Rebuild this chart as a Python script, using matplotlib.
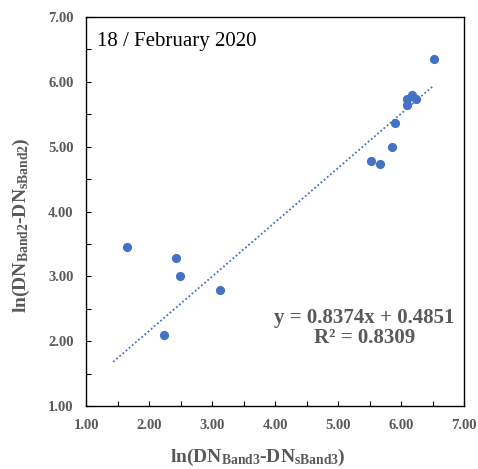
import numpy as np
import matplotlib.pyplot as plt
from matplotlib.ticker import MultipleLocator, FormatStrFormatter

plt.rcParams["font.family"] = ["Liberation Serif", "DejaVu Serif"]
plt.rcParams["mathtext.fontset"] = "custom"
plt.rcParams["mathtext.rm"] = "Liberation Serif:bold"
plt.rcParams["mathtext.bf"] = "Liberation Serif:bold"
plt.rcParams["mathtext.it"] = "Liberation Serif:bold"

# ln(DN - DN_s) per sample, band 3 vs band 2
band3 = [6.52, 6.09, 6.17, 6.24, 6.10, 5.90, 5.86, 5.52, 5.67,
         1.65, 2.42, 2.49, 3.13, 2.23]
band2 = [6.35, 5.74, 5.79, 5.73, 5.64, 5.36, 4.99, 4.78, 4.73,
         3.46, 3.28, 3.01, 2.79, 2.09]

slope = 0.8374
intercept = 0.4851
r2 = 0.8309
trend_x = [1.43, 6.50]

gray = "#595959"
blue = "#4472C4"

fig = plt.figure(figsize=(4.78, 4.69), dpi=100)
ax = fig.add_axes([0.180, 0.134, 0.791, 0.830])

ax.plot(band3, band2, "o", color=blue, markersize=5.6, zorder=3)

tx = np.array(trend_x)
ax.plot(tx, slope * tx + intercept, color=blue, lw=1.3,
        linestyle=(0, (1, 1.3)), zorder=2)

ax.set_xlim(1, 7)
ax.set_ylim(1, 7)
ax.xaxis.set_major_locator(MultipleLocator(1))
ax.yaxis.set_major_locator(MultipleLocator(1))
ax.xaxis.set_minor_locator(MultipleLocator(0.5))
ax.yaxis.set_minor_locator(MultipleLocator(0.5))
ax.xaxis.set_major_formatter(FormatStrFormatter("%.2f"))
ax.yaxis.set_major_formatter(FormatStrFormatter("%.2f"))

ax.tick_params(which="both", direction="in", length=3.5, width=0.8,
               top=False, right=False, color="black")
ax.tick_params(which="major", pad=9, labelsize=10.5, labelcolor=gray)
for lab in ax.get_xticklabels() + ax.get_yticklabels():
    lab.set_fontweight("bold")

for sp in ax.spines.values():
    sp.set_color("black")
    sp.set_linewidth(1.0)

ax.set_xlabel(r"$\mathrm{ln(DN_{Band3}\text{-}DN_{sBand3})}$",
              fontsize=14, color=gray)
ax.set_ylabel(r"$\mathrm{ln(DN_{Band2}\text{-}DN_{sBand2})}$",
              fontsize=14, color=gray)
ax.xaxis.set_label_coords(0.455, -0.131)
ax.yaxis.set_label_coords(-0.172, 0.465)
ax.xaxis.label.set_va("center")
ax.yaxis.label.set_va("center")

ax.text(0.03, 0.925, "18 / February 2020", transform=ax.transAxes,
        fontsize=15, color="black", va="baseline", ha="left")

ax.text(0.736, 0.20,
        "y = %.4fx + %.4f\nR\u00b2 = %.4f" % (slope, intercept, r2),
        transform=ax.transAxes, fontsize=15, fontweight="bold",
        color=gray, ha="center", va="center", linespacing=1.0)

fig.savefig("out.png", dpi=100)
plt.close(fig)
